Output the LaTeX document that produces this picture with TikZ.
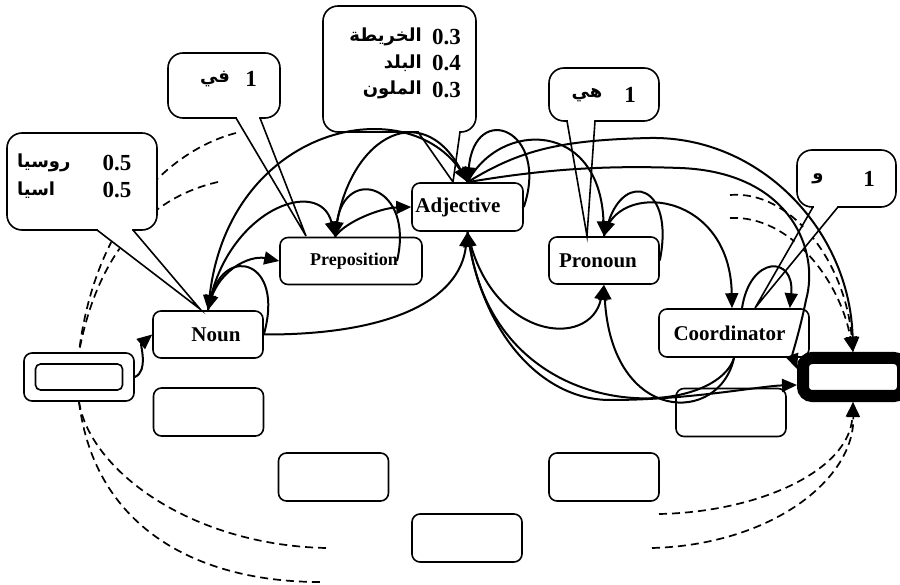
\documentclass[tikz,border=0pt]{standalone}
\usepackage{fontspec}
\setmainfont{Liberation Serif}[BoldFont={Liberation Serif Bold}]
\newfontfamily\arabicfont[Script=Arabic]{DejaVu Sans}
\TeXXeTstate=1
\usetikzlibrary{arrows.meta}
% pointer of a callout: left x, right x, base y, tip
\newcommand{\calltip}[4]{%
  \fill[white] (#1+1,#3-3) -- (#1+1,#3+2) -- (#4) -- (#2-1,#3+2) -- (#2-1,#3-3) -- cycle;
  \draw[calledge] (#1,#3) -- (#4) -- (#2,#3);}

\begin{document}
\begin{tikzpicture}[x=1pt, y=-1pt,
    tagbox/.style={draw, line width=1.6pt, rounded corners=8pt, minimum height=47pt,
      inner sep=0pt, font=\fontsize{21}{24}\selectfont\bfseries},
    blank/.style={tagbox, minimum width=110pt, minimum height=48pt},
    callbox/.style={draw, line width=1.6pt, fill=white, rounded corners=15pt, inner sep=0pt},
    calledge/.style={line width=1.6pt},
    num/.style={font=\fontsize{23}{25}\selectfont\bfseries, inner sep=0pt},
    word/.style={font=\arabicfont\fontsize{18}{22}\selectfont\bfseries, inner sep=0pt},
    trans/.style={line width=2pt, -{Triangle[length=15pt,width=13pt]}},
    hidden/.style={line width=1.7pt, dash pattern=on 8pt off 5pt},
    hiddenarrow/.style={hidden, -{Triangle[length=15pt,width=13pt]}}]
\useasboundingbox (0,0) rectangle (900,585);

% tag states
\node[tagbox, minimum width=110pt, minimum height=48pt] (start) at (79,377) {};
\node[tagbox, minimum width=87pt, minimum height=26pt, rounded corners=5pt] (startin) at (79,377) {};
\node[tagbox, minimum width=110pt] (noun) at (208,334.5) {\hspace*{16pt}Noun};
\node[tagbox, minimum width=142pt, font=\fontsize{18}{22}\selectfont\bfseries] (prep) at (351,261) {\hspace*{6pt}Preposition};
\node[tagbox, minimum width=111pt, minimum height=48pt] (adj) at (467.5,207) {Adjective\hspace*{19pt}};
\node[tagbox, minimum width=110pt] (pron) at (604,260.5) {Pronoun\hspace*{12pt}};
\node[tagbox, minimum width=150pt, minimum height=48pt] (coord) at (734,333) {Coordinator\hspace*{9pt}};
\node[draw, line width=12pt, rounded corners=9pt, minimum width=100pt, minimum height=38pt] (endn) at (853,377) {};

% empty boxes
\node[blank] (box1) at (208.5,412) {};
\node[blank] (box2) at (333.5,477) {};
\node[blank] (box3) at (467,538) {};
\node[blank] (box4) at (604,477) {};
\node[blank] (box5) at (731,412.5) {};

% dashed arcs
\coordinate (dl1) at (236,133);
\coordinate (dl2) at (218,182);
\coordinate (db1) at (326,548);
\coordinate (db2) at (320,582);
\coordinate (dr1) at (659,514);
\coordinate (dr2) at (652,548);
\coordinate (dt1) at (730,195);
\coordinate (dt2) at (730,218);
\draw[hidden] (dl1) .. controls (170,150) and (95,220) .. (start.north);
\draw[hidden] (dl2) .. controls (160,195) and (100,240) .. (start.north);
\draw[hidden] (start.south) .. controls (90,470) and (190,545) .. (db1);
\draw[hidden] (start.south) .. controls (95,530) and (200,582) .. (db2);
\draw[hiddenarrow] (dr1) .. controls (760,512) and (850,470) .. (endn.south);
\draw[hiddenarrow] (dr2) .. controls (770,545) and (855,480) .. (endn.south);
\draw[hiddenarrow] (dt1) .. controls (790,190) and (845,260) .. (endn.north);
\draw[hiddenarrow] (dt2) .. controls (790,215) and (840,280) .. (endn.north);

% callouts
\node[callbox, minimum width=150pt, minimum height=97pt] (cal1) at (82,181.5) {};
\calltip{97}{133}{230}{200,309}
\node[num] (p1a) at (117,163) {0.5};
\node[num] (p1b) at (117,190) {0.5};
\node[word, anchor=west] (w1a) at (17,163) {\beginR روسيا\endR};
\node[word, anchor=west] (w1b) at (17,190) {\beginR اسيا\endR};

\node[callbox, minimum width=112pt, minimum height=65pt] (cal2) at (224,85.5) {};
\calltip{236}{260}{118}{306,236}
\node[num] (p2) at (251,79) {1};
\node[word] (w2) at (215,79) {\beginR في\endR};

\node[callbox, minimum width=153pt, minimum height=126pt] (cal3) at (399.5,69) {};
\calltip{418}{460}{132}{453,182}
\node[num, anchor=west] (p3a) at (432,37) {0.3};
\node[num, anchor=west] (p3b) at (432,63) {0.4};
\node[num, anchor=west] (p3c) at (432,90) {0.3};
\node[word, anchor=east] (w3a) at (422,37) {\beginR الخريطة\endR};
\node[word, anchor=east] (w3b) at (422,63) {\beginR البلد\endR};
\node[word, anchor=east] (w3c) at (422,90) {\beginR الملون\endR};

\node[callbox, minimum width=110pt, minimum height=53pt] (cal4) at (604,94.5) {};
\calltip{567}{595}{121}{587,236}
\node[num] (p4) at (630,95) {1};
\node[word] (w4) at (587,95) {\beginR هي\endR};

\node[callbox, minimum width=99pt, minimum height=57pt] (cal5) at (846.5,178.5) {};
\calltip{813}{838}{207}{755,308}
\node[num] (p5) at (869,179) {1};
\node[word] (w5) at (818,179) {\beginR و\endR};

% transitions
\draw[trans] (start.east) .. controls +(14,-6) and +(-12,10) .. (noun.west);
\draw[trans] (noun.east) .. controls (285,260) and (225,245) .. (noun.north);
\draw[trans] (noun.north) .. controls (215,270) and (250,255) .. (prep.west);
\draw[trans] (noun.east) .. controls (390,335) and (460,300) .. (adj.south);
\draw[trans] (adj.north) .. controls (420,85) and (230,120) .. (noun.north);
\draw[trans] (noun.north) .. controls (225,210) and (320,175) .. ([xshift=-16pt]prep.north);
\draw[trans] ([xshift=46pt]prep.center) .. controls (415,185) and (345,165) .. ([xshift=-16pt]prep.north);
\draw[trans] ([xshift=-16pt]prep.north) .. controls (345,222) and (380,208) .. (adj.west);
\draw[trans] ([xshift=-16pt]prep.north) .. controls (345,140) and (420,95) .. (adj.north);
\draw[trans] (adj.east) .. controls (550,130) and (475,100) .. (adj.north);
\draw[trans] (adj.north) .. controls (500,120) and (600,120) .. (pron.north);
\draw[trans] (adj.north) .. controls (520,150) and (560,140) .. (650,138)
  .. controls (760,136) and (850,230) .. (endn.north);
\draw[trans] (adj.north) .. controls (540,170) and (600,165) .. (680,168)
  .. controls (790,172) and (820,250) .. (806,300)
  .. controls (800,330) and (792,355) .. ([yshift=8pt]endn.west);
\draw[trans] (pron.east) .. controls (675,185) and (625,170) .. (pron.north);
\draw[trans] (pron.north) .. controls (615,180) and (730,190) .. ([xshift=-2pt]coord.north);
\draw[trans] ([xshift=8pt]coord.north) .. controls (750,255) and (795,255) .. ([xshift=-20pt]coord.north east);
\draw[trans] (adj.south) .. controls (490,340) and (590,350) .. (pron.south);
\draw[trans] (coord.south) .. controls (720,425) and (612,425) .. (pron.south);
\draw[trans] (coord.south) .. controls (715,420) and (500,430) .. (adj.south);
\draw[trans] (adj.south) .. controls (480,330) and (540,400) .. (610,400)
  .. controls (690,400) and (760,386) .. ([yshift=-8pt]endn.west);
\end{tikzpicture}
\end{document}
